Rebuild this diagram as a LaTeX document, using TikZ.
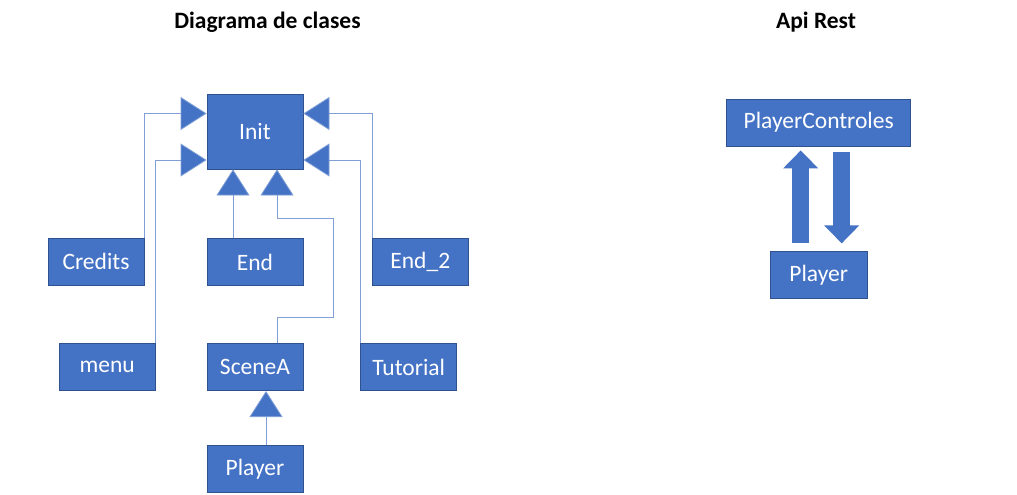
\documentclass[tikz,border=0pt]{standalone}
\usepackage{fontspec}
\setmainfont{Carlito}
\usetikzlibrary{positioning,arrows.meta}
\definecolor{mainblue}{HTML}{4472C4}
\definecolor{edgeblue}{HTML}{2F528F}
\definecolor{lineblue}{HTML}{7F9FD6}

\begin{document}
\begin{tikzpicture}[%
    x=1pt,
    y=-1pt,
    node distance=56pt,
    classbox/.style={%
      rectangle,
      fill=mainblue,
      draw=edgeblue,
      line width=.8pt,
      text=white,
      minimum width=96pt,
      minimum height=47pt,
      inner sep=0pt,
      font=\fontsize{23.5}{28}\selectfont},
    inh/.style={%
      draw=lineblue,
      line width=.8pt,
      -{Triangle[length=26pt,width=33pt,fill=mainblue]}},
    bigarrow/.style={%
      draw=mainblue,
      line width=17pt,
      -{Triangle[length=18pt,width=34pt]}},
    title/.style={%
      font=\fontsize{23.5}{28}\selectfont\bfseries}
    ]
    \useasboundingbox (0,0) rectangle (1017,495);
    % titles
    \node[title] (t1) at (267.5,22) {Diagrama de clases};
    \node[title] (t2) at (816,22) {Api Rest};
    % class diagram
    \node[classbox,minimum height=75pt] (init) at (255,131.5) {Init};
    \node[classbox] (credits) at (96,261.5) {Credits};
    \node[classbox] (endn) [below=69pt of init] {End};
    \node[classbox] (end2) at (420.3,261.5) {End\_2};
    \node[classbox] (scenea) [below=57pt of endn] {SceneA};
    \node[classbox] (menu) [left=51pt of scenea] {menu};
    \node[classbox] (tutorial) [right=57pt of scenea] {Tutorial};
    \node[classbox] (player) [below=54pt of scenea] {Player};
    \coordinate (bend1) at (333,317);
    \coordinate (bend2) at (333,218);
    \path[inh] (credits.north east) |- ([yshift=18pt]init.west);
    \path[inh] (menu.north east) |- ([yshift=-28.5pt]init.west);
    \path[inh] (end2.north west) |- ([yshift=18pt]init.east);
    \path[inh] (tutorial.north west) |- ([yshift=-28.5pt]init.east);
    \path[inh] ([xshift=-22pt]endn.north) -- ([xshift=-22pt]init.south);
    \path[inh] ([xshift=22pt]scenea.north) |- (bend1) -- (bend2)
          -| ([xshift=22pt]init.south);
    \path[inh] ([xshift=11pt]player.north) -- ([xshift=11pt]scenea.south);
    % api rest
    \node[classbox,minimum width=184pt] (ctrl) at (818.7,122.5) {PlayerControles};
    \node[classbox,minimum width=97pt] (rplayer) [below=105pt of ctrl] {Player};
    \path[bigarrow,shorten <=8pt,shorten >=4pt]
          ([xshift=-18pt]rplayer.north) -- ([xshift=-18pt]ctrl.south);
    \path[bigarrow,shorten <=6pt,shorten >=8pt]
          ([xshift=23pt]ctrl.south) -- ([xshift=23pt]rplayer.north);
  \end{tikzpicture}
\end{document}
